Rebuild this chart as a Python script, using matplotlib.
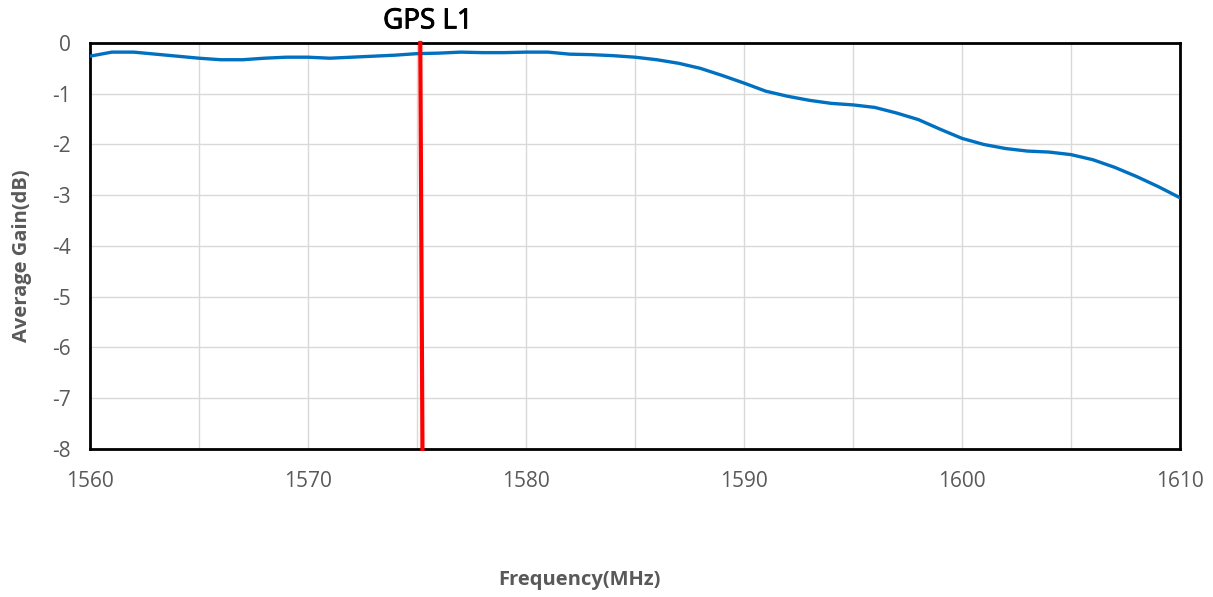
import numpy as np
import matplotlib
matplotlib.use('Agg')
import matplotlib.pyplot as plt
import matplotlib.patheffects as pe

plt.rcParams['axes.unicode_minus'] = False

# ==============================================================================
# Data
freqMHz = [1560, 1561, 1562, 1563, 1564, 1565, 1566, 1567, 1568, 1569,
           1570, 1571, 1572, 1573, 1574, 1575, 1576, 1577, 1578, 1579,
           1580, 1581, 1582, 1583, 1584, 1585, 1586, 1587, 1588, 1589,
           1590, 1591, 1592, 1593, 1594, 1595, 1596, 1597, 1598, 1599,
           1600, 1601, 1602, 1603, 1604, 1605, 1606, 1607, 1608, 1609,
           1610]
gainDB = [-0.26, -0.18, -0.18, -0.22, -0.26, -0.30, -0.33, -0.33, -0.30, -0.28,
          -0.28, -0.30, -0.28, -0.26, -0.24, -0.21, -0.20, -0.18, -0.19, -0.19,
          -0.18, -0.18, -0.22, -0.23, -0.25, -0.28, -0.33, -0.40, -0.50, -0.64,
          -0.79, -0.95, -1.05, -1.13, -1.19, -1.22, -1.27, -1.38, -1.51, -1.70,
          -1.88, -2.00, -2.08, -2.13, -2.15, -2.20, -2.30, -2.45, -2.63, -2.83,
          -3.05]

markerX = [1575.15, 1575.25]
markerY = [0, -8]
markerLabel = 'GPS L1'

xTicks = [1560, 1570, 1580, 1590, 1600, 1610]
yTicks = [0, -1, -2, -3, -4, -5, -6, -7, -8]

tickColor = '#595959'

# ==============================================================================
fig = plt.figure(figsize=(12.13, 5.97), dpi=100)
ax = fig.add_axes([0.0742, 0.248, 0.8986, 0.680])

ax.plot(freqMHz, gainDB, color='#0070C0', lw=2.4, zorder=3)
ax.plot(markerX, markerY, color='#FF0000', lw=3, zorder=4, clip_on=False)

ax.set_xlim(1560, 1610)
ax.set_ylim(-8, 0)
ax.set_xticks(xTicks)
ax.set_xticks(np.arange(1560, 1611, 5), minor=True)
ax.set_yticks(yTicks)
ax.tick_params(which='both', length=0)
ax.tick_params(axis='x', pad=16)
ax.tick_params(axis='y', pad=14)
for lab in ax.get_xticklabels() + ax.get_yticklabels():
    lab.set_fontfamily('Open Sans')
    lab.set_fontsize(15)
    lab.set_color(tickColor)

ax.grid(which='both', color='#d9d9d9', lw=1)
ax.set_axisbelow(True)
for sp in ax.spines.values():
    sp.set_color('black')
    sp.set_linewidth(2)

fig.text(0.018, 0.571, 'Average Gain(dB)', rotation=90, ha='center', va='center',
         fontsize=14.5, fontweight='bold', color=tickColor, family='Open Sans')
fig.text(0.478, 0.028, 'Frequency(MHz)', ha='center', va='center',
         fontsize=14.5, fontweight='bold', color=tickColor, family='Open Sans')
ax.text(1575.5, 0.15, markerLabel, ha='center', va='bottom',
        fontsize=20, color='black', family='Open Sans',
        path_effects=[pe.withStroke(linewidth=0.7, foreground='black')])

plt.savefig('out.png', dpi=100)
